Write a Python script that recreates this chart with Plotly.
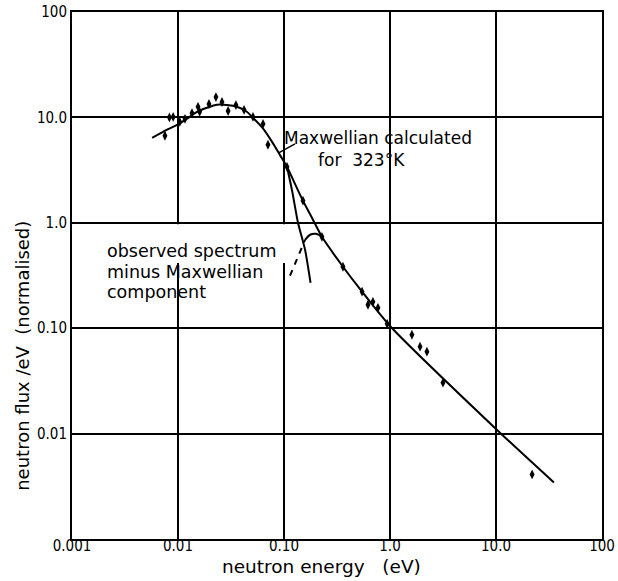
import plotly.graph_objects as go
import numpy as np

# ---- data ----
# measured points (energy eV, flux/eV normalised)
pts_E = [0.00753, 0.0083, 0.0090, 0.0104, 0.01164, 0.01355, 0.01545, 0.0160, 0.0196, 0.0228,
         0.0260, 0.0297, 0.0352, 0.0420, 0.0510, 0.0634, 0.0706, 0.1067, 0.151, 0.228,
         0.360, 0.545, 0.620, 0.690, 0.770, 0.940, 1.61, 1.92, 2.23, 3.16, 21.9]
pts_F = [6.7, 10.0, 10.1, 9.06, 9.7, 11.0, 12.6, 11.3, 13.4, 15.6,
         14.0, 11.5, 13.1, 11.8, 10.1, 8.67, 5.5, 3.4, 1.62, 0.736,
         0.383, 0.222, 0.167, 0.178, 0.156, 0.110, 0.0867, 0.0668, 0.0599, 0.0304, 0.0041]

# observed spectrum (fitted curve)
total_E = [0.0057, 0.0075, 0.0098, 0.0125, 0.0151, 0.019, 0.0233, 0.029, 0.036, 0.0446,
           0.051, 0.063, 0.0785, 0.0915, 0.1067, 0.125, 0.151, 0.185, 0.228, 0.36,
           0.545, 1.0, 10.9, 35.2]
total_F = [6.4, 7.45, 8.5, 9.9, 11.3, 12.4, 13.2, 13.1, 12.6, 11.3,
           9.9, 7.9, 5.7, 4.4, 3.4, 2.42, 1.62, 1.10, 0.736, 0.383,
           0.222, 0.105, 0.0102, 0.00343]

# Maxwellian component (323 K) tail
maxw_E = [0.1067, 0.120, 0.1355, 0.158, 0.178]
maxw_F = [3.4, 1.95, 1.0, 0.555, 0.27]

# observed minus Maxwellian component (short arc)
resid_E = [0.158, 0.176, 0.200, 0.228]
resid_F = [0.69, 0.77, 0.787, 0.736]

# leader lines for labels
lead_resid_E = [0.114, 0.158]
lead_resid_F = [0.315, 0.69]
lead_maxw_E = [0.089, 0.127]
lead_maxw_F = [4.6, 5.6]

x_ticks = [0.001, 0.01, 0.1, 1.0, 10.0, 100]
x_ticklabels = ["0.001", "0.01", "0.10", "1.0", "10.0", "100"]
y_ticks = [0.01, 0.1, 1.0, 10.0, 100]
y_ticklabels = ["0.01", "0.10", "1.0", "10.0", "100"]

TXT = "DejaVu Sans"
TICK = "DejaVu Sans Condensed, Liberation Sans Narrow, DejaVu Sans"
NB = "\u00a0"

fig = go.Figure()
fig.add_trace(go.Scatter(x=total_E, y=total_F, mode="lines", line=dict(color="black", width=2, shape="spline", smoothing=0.6), showlegend=False))
fig.add_trace(go.Scatter(x=maxw_E, y=maxw_F, mode="lines", line=dict(color="black", width=2, shape="spline", smoothing=0.6), showlegend=False))
fig.add_trace(go.Scatter(x=resid_E, y=resid_F, mode="lines", line=dict(color="black", width=2, shape="spline"), showlegend=False))
fig.add_trace(go.Scatter(x=lead_resid_E, y=lead_resid_F, mode="lines", line=dict(color="black", width=2, dash="6px,6px"), showlegend=False))
fig.add_trace(go.Scatter(x=lead_maxw_E, y=lead_maxw_F, mode="lines", line=dict(color="black", width=1.5), showlegend=False))
fig.add_trace(go.Scatter(x=pts_E, y=pts_F, mode="markers",
                         marker=dict(symbol="diamond-tall", size=7, color="black"), showlegend=False))

# white masks where the printed labels interrupt grid lines (between grid and traces)
fig.add_shape(type="rect", xref="x", yref="y", layer="between",
              x0=np.log10(0.14), x1=np.log10(6.3), y0=np.log10(2.6), y1=np.log10(9.3),
              fillcolor="white", line=dict(width=0))
fig.add_shape(type="rect", xref="x", yref="y", layer="between",
              x0=np.log10(0.0016), x1=np.log10(0.108), y0=np.log10(0.17), y1=np.log10(0.72),
              fillcolor="white", line=dict(width=0))

fig.add_annotation(x=np.log10(0.095), y=np.log10(6.4), xref="x", yref="y", text="Maxwellian calculated",
                   showarrow=False, xanchor="left", yanchor="middle", font=dict(family=TXT, size=17, color="black"))
fig.add_annotation(x=np.log10(0.2), y=np.log10(3.95), xref="x", yref="y", text="for" + NB + NB + "323°K",
                   showarrow=False, xanchor="left", yanchor="middle", font=dict(family=TXT, size=17, color="black"))
for txt, yv in [("observed spectrum", 0.537), ("minus Maxwellian", 0.343), ("component", 0.219)]:
    fig.add_annotation(x=np.log10(0.00205), y=np.log10(yv), xref="x", yref="y", text=txt,
                       showarrow=False, xanchor="left", yanchor="middle", font=dict(family=TXT, size=17.5, color="black"))

fig.add_annotation(x=0.47, y=-0.053, xref="paper", yref="paper", text="neutron energy" + NB + NB + NB + "(eV)",
                   showarrow=False, xanchor="center", yanchor="middle", font=dict(family=TXT, size=18.5, color="black"))
fig.add_annotation(x=-0.094, y=0.348, xref="paper", yref="paper", text="neutron flux /eV" + NB + NB + "(normalised)",
                   textangle=-90, showarrow=False, xanchor="center", yanchor="middle",
                   font=dict(family=TXT, size=18, color="black"))

fig.update_xaxes(type="log", range=[-3, 2], tickvals=x_ticks, ticktext=x_ticklabels,
                 showgrid=True, gridcolor="black", gridwidth=2, showline=True, linecolor="black",
                 linewidth=2, mirror=True, ticks="", zeroline=False, automargin=False,
                 ticklabelstandoff=-8,
                 tickfont=dict(family=TICK, size=15, color="black"))
fig.update_yaxes(type="log", range=[-3, 2], tickvals=y_ticks, ticktext=y_ticklabels,
                 showgrid=True, gridcolor="black", gridwidth=2, showline=True, linecolor="black",
                 linewidth=2, mirror=True, ticks="", zeroline=False, automargin=False,
                 tickfont=dict(family=TICK, size=15, color="black"))

fig.update_layout(width=618, height=581, margin=dict(l=72, r=16, t=12, b=42),
                  paper_bgcolor="white", plot_bgcolor="white", showlegend=False)

fig.write_html("out.html")
